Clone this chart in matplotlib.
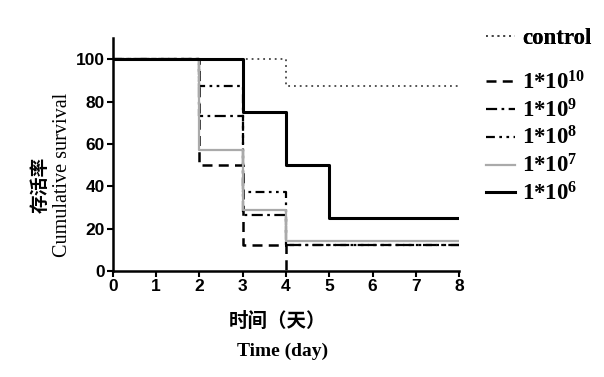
import matplotlib.pyplot as plt
import matplotlib as mpl

mpl.rcParams['mathtext.fontset'] = 'custom'
mpl.rcParams['mathtext.bf'] = 'Liberation Serif:bold'
mpl.rcParams['mathtext.rm'] = 'Liberation Serif'

# Kaplan-Meier style step data (time in days, survival %)
labels = ['control', r'$\mathbf{1{*}10^{10}}$', r'$\mathbf{1{*}10^{9}}$',
          r'$\mathbf{1{*}10^{8}}$', r'$\mathbf{1{*}10^{7}}$', r'$\mathbf{1{*}10^{6}}$']
t_control = [0, 4, 8]
s_control = [100, 87.5, 87.5]
t_1e10 = [0, 2, 3, 4]
s_1e10 = [100, 50, 12.5, 0]
t_1e9 = [0, 2, 3, 4, 8]
s_1e9 = [100, 73.3, 26.7, 12.5, 12.5]
t_1e8 = [0, 2, 3, 4, 8]
s_1e8 = [100, 87.5, 37.5, 12.5, 12.5]
t_1e7 = [0, 2, 3, 4, 8]
s_1e7 = [100, 57.1, 28.6, 14.3, 14.3]
t_1e6 = [0, 3, 4, 5, 8]
s_1e6 = [100, 75, 50, 25, 25]

fig = plt.figure(figsize=(6.04, 3.77), dpi=100)
ax = fig.add_axes([0.187, 0.281, 0.573, 0.618])

h = []
h += ax.step(t_control, s_control, where='post', color='#444444', lw=1.3,
             linestyle=(0, (1, 2.2)), label=labels[0])
h += ax.step(t_1e10, s_1e10, where='post', color='black', lw=1.8,
             linestyle=(0, (4, 2.5)), label=labels[1])
h += ax.step(t_1e9, s_1e9, where='post', color='black', lw=1.6,
             linestyle=(0, (5, 2, 1.2, 2)), label=labels[2])
h += ax.step(t_1e8, s_1e8, where='post', color='black', lw=1.6,
             linestyle=(0, (4, 2, 1.2, 2, 1.2, 2)), label=labels[3])
h += ax.step(t_1e7, s_1e7, where='post', color='#aaaaaa', lw=1.6,
             label=labels[4])
h += ax.step(t_1e6, s_1e6, where='post', color='black', lw=2.2,
             label=labels[5])

ax.set_xlim(0, 8)
ax.set_ylim(0, 110)
ax.set_xticks(range(0, 9))
ax.set_yticks(range(0, 101, 20))
for s in ['top', 'right']:
    ax.spines[s].set_visible(False)
for s in ['left', 'bottom']:
    ax.spines[s].set_linewidth(1.8)
ax.tick_params(width=1.5, length=4, labelsize=12.5, pad=2)
for lab in ax.get_xticklabels() + ax.get_yticklabels():
    lab.set_fontweight('bold')
    lab.set_family('Liberation Sans')

fig.text(0.066, 0.51, '存活率', rotation=90, ha='center', va='center',
         family='Noto Sans CJK SC', fontweight='bold', fontsize=13.5)
fig.text(0.103, 0.535, 'Cumulative survival', rotation=90, ha='center',
         va='center', family='Liberation Serif', fontsize=14.5)
fig.text(0.46, 0.147, '时间（天）', ha='center', va='center',
         family='Noto Sans CJK SC', fontweight='bold', fontsize=14)
fig.text(0.468, 0.068, 'Time (day)', ha='center', va='center',
         family='Liberation Serif', fontweight='bold', fontsize=14)

prop = {'family': 'Liberation Serif', 'weight': 'bold', 'size': 16.5}
leg1 = fig.legend(handles=h[:1], loc='center left',
                  bbox_to_anchor=(0.785, 0.899), frameon=False, borderpad=0,
                  handlelength=1.3, handletextpad=0.3, prop=prop)
fig.legend(handles=h[1:], loc='upper left', bbox_to_anchor=(0.785, 0.842),
           frameon=False, borderpad=0, handlelength=1.3, handletextpad=0.3,
           labelspacing=0.2, prop=prop)
fig.add_artist(leg1)

fig.savefig('out.png', dpi=100)
